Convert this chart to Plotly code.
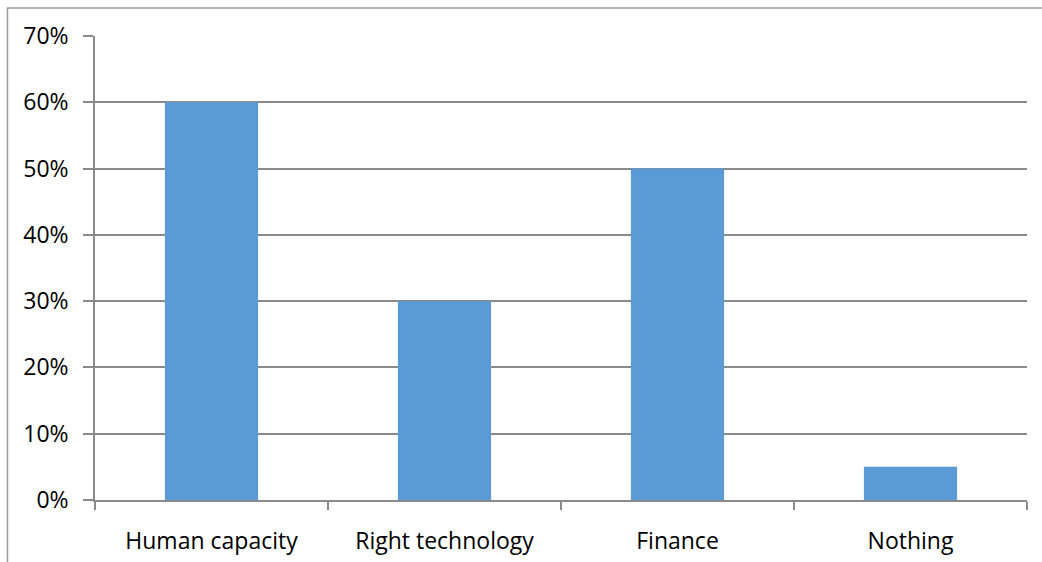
import plotly.graph_objects as go

categories = ["Human capacity", "Right technology", "Finance", "Nothing"]
shares = [0.60, 0.30, 0.50, 0.05]
y_ticks = [0.0, 0.1, 0.2, 0.3, 0.4, 0.5, 0.6, 0.7]
y_tick_labels = ["0%", "10%", "20%", "30%", "40%", "50%", "60%", "70%"]

W, H = 1042, 562
L, R, T, B = 95, 15, 36, 62
pw, ph = W - L - R, H - T - B

axis_grey = "#8a8a8a"
font = dict(family="Open Sans, Liberation Sans, sans-serif", size=23, color="#000000")

fig = go.Figure(
    go.Bar(
        x=categories,
        y=shares,
        marker=dict(color="#5B9BD5", line=dict(width=0)),
        width=0.4,
    )
)

fig.update_layout(
    width=W,
    height=H,
    margin=dict(l=L, r=R, t=T, b=B),
    paper_bgcolor="white",
    plot_bgcolor="white",
    showlegend=False,
    font=font,
)

fig.update_yaxes(
    range=[0, 0.7],
    tickvals=y_ticks,
    ticktext=y_tick_labels,
    automargin=False,
    showgrid=True,
    gridcolor=axis_grey,
    gridwidth=1.5,
    zeroline=False,
    showline=True,
    linecolor=axis_grey,
    linewidth=1.5,
    ticks="outside",
    ticklen=10,
    tickcolor=axis_grey,
    tickwidth=1.5,
    ticklabelstandoff=10,
)

fig.update_xaxes(
    automargin=False,
    showgrid=False,
    showline=True,
    linecolor=axis_grey,
    linewidth=1.5,
    ticks="outside",
    tickson="boundaries",
    ticklen=8,
    tickcolor=axis_grey,
    tickwidth=1.5,
    ticklabelstandoff=20,
)

# outer chart frame (left and top edges inside the page)
x0 = (7.5 - L) / pw
y1 = (H - B - 8) / ph
fig.add_shape(
    type="rect",
    xref="paper", yref="paper",
    x0=x0, x1=1.2, y0=-0.3, y1=y1,
    line=dict(color="#9a9a9a", width=1.5),
    layer="below",
)

fig.write_html("out.html")
